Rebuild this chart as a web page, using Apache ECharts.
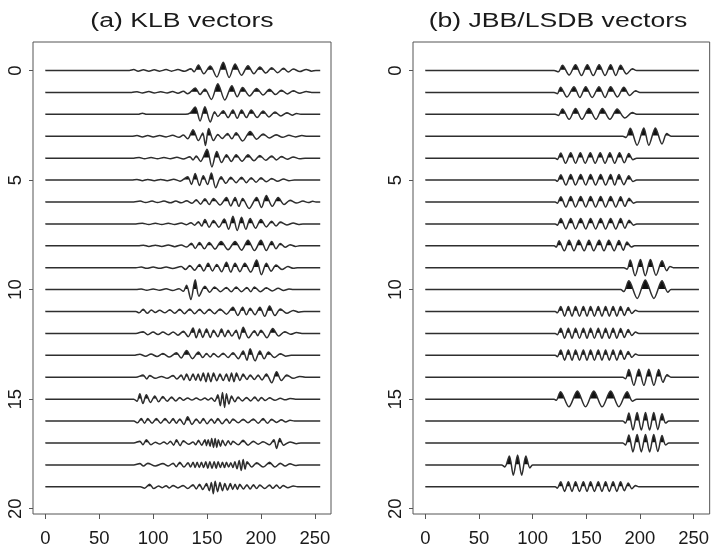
<!DOCTYPE html>
<html><head><meta charset="utf-8">
<script src="https://cdn.jsdelivr.net/npm/echarts@6/dist/echarts.min.js"></script>
<style>html,body{margin:0;padding:0;background:#fff}#c{width:712px;height:548px}</style>
</head><body><div id="c"></div><script>
// tick labels and titles
const xTicks = [0, 50, 100, 150, 200, 250];
const yTicks = [0, 5, 10, 15, 20];
const titles = ['(a) KLB vectors', '(b) JBB/LSDB vectors'];
const xStart = 0, xEnd = 255;

// Each vector: flat list of [x, amplitude] pairs (peaks / troughs)
const klb0 = [78,0, 82,.04, 86,-.03, 91,.03, 96,-.03, 101,.03, 106,-.03, 112,.04, 117,-.03, 123,.04, 129,-.04, 135,.08, 138,-.06, 142,.25, 147,-.15, 153,.2, 159,-.3, 165,.38, 170.5,-.32, 176,.3, 182,-.22, 188,.22, 193.5,-.15, 199,.16, 204.5,-.12, 210,.13, 215.5,-.1, 221,.1, 225.5,-.07, 230,.07, 236,-.05, 242,.05, 247,-.03, 251,0];
const klb1 = [80,0, 85,.03, 90,-.03, 96,.04, 101,-.03, 107,.03, 113,-.03, 118,.04, 123,-.04, 128,.05, 132,-.06, 139,.2, 143.5,-.1, 148,.15, 154,-.32, 160,.4, 166.5,-.35, 173,.3, 178,-.2, 183,.22, 189.5,-.16, 196,.18, 202,-.12, 208,.14, 213.5,-.1, 219,.1, 224.5,-.07, 230,.07, 236,-.04, 242,.04, 247,0];
const klb2 = [86,0, 90,.05, 94,0, 130,0, 134,.05, 139,.33, 143.5,-.3, 148,.35, 153,-.35, 157,.12, 160,-.1, 165,.16, 169.5,-.15, 174,.2, 178,-.18, 182,.2, 186.5,-.15, 191,.2, 196.5,-.15, 202,.15, 207.5,-.12, 213,.1, 218.5,-.08, 224,.07, 229,-.04, 233,.04, 237,0];
const klb3 = [80,0, 85,.03, 90,-.03, 95,.03, 100,-.03, 106,.03, 112,-.03, 118,.04, 124,-.05, 128,.06, 132,-.12, 137,.3, 142,-.2, 146,.15, 148.5,-.42, 151.5,.35, 156,-.2, 160,.08, 164,-.1, 169,.12, 173,-.12, 177,.16, 183,-.22, 190,.22, 196,-.14, 202,.1, 208,-.08, 214,.07, 220,-.05, 226,.04, 232,-.03, 238,.03, 243,0];
const klb4 = [82,0, 87,.03, 92,-.03, 98,.03, 104,-.03, 110,.03, 116,-.03, 122,.04, 128,-.04, 134,.06, 137,-.08, 140,.1, 144,-.15, 150,.4, 154.5,-.4, 159,.3, 163.5,-.2, 168,.16, 172.5,-.15, 177,.16, 182.5,-.14, 188,.15, 193.5,-.12, 199,.12, 204.5,-.1, 210,.1, 214.5,-.08, 219,.07, 224.5,-.05, 230,.05, 236,-.03, 241,0];
const klb5 = [80,0, 85,.03, 90,-.03, 95,.03, 101,-.03, 107,.03, 113,-.03, 119,.04, 125,-.05, 132,.15, 135.5,-.2, 139,.3, 143,-.25, 146.5,.2, 150.5,-.2, 154,.32, 158,-.35, 163,.15, 167.5,-.15, 172,.13, 177,-.12, 182,.13, 186.5,-.12, 191,.11, 195.5,-.1, 200,.1, 205,-.08, 210,.07, 215.5,-.06, 221,.05, 226,-.03, 231,0];
const klb6 = [82,0, 88,.04, 93,-.03, 99,.04, 104,-.03, 110,.04, 116,-.04, 121,.04, 126,-.04, 131,.05, 136,-.06, 140,.1, 144,-.1, 148,.15, 152,-.12, 156,.16, 162,-.14, 168,.2, 172,-.18, 176,.2, 179.5,-.2, 183,.16, 189,-.3, 196,.2, 200.5,-.25, 205,.3, 210.5,-.2, 216,.2, 221.5,-.12, 227,.08, 233,-.05, 239,.04, 244,-.03, 248,.03, 251,0];
const klb7 = [84,0, 90,.03, 96,-.03, 102,.03, 108,-.03, 114,.03, 120,-.03, 126,.04, 131,-.04, 135,.05, 138.5,-.06, 142,.1, 145,-.1, 148,.2, 152,-.15, 156,.15, 161,-.15, 166,.22, 170,-.25, 174,.35, 178,-.3, 182,.3, 186,-.25, 190,.25, 195,-.2, 200,.2, 205,-.14, 210,.12, 214,-.1, 218,.08, 224,-.05, 230,.04, 235,-.03, 239,0];
const klb8 = [86,0, 91,.03, 96,-.03, 102,.03, 108,-.03, 114,.04, 120,-.04, 126,.04, 131,-.06, 135.5,.12, 139,-.12, 143,.15, 147.5,-.14, 152,.15, 157.5,-.15, 163,.2, 169.5,-.18, 176,.2, 182,-.2, 188,.25, 194,-.22, 200,.25, 205,-.22, 210,.2, 214,-.14, 218,.1, 222.5,-.07, 227,.05, 232,-.03, 236,0];
const klb9 = [84,0, 89,.03, 94,-.03, 100,.03, 106,-.03, 112,.03, 118,-.04, 126,.05, 130,-.08, 134,.1, 138.5,-.12, 143,.15, 147,-.15, 151,.2, 155,-.15, 159,.15, 163.5,-.18, 168,.25, 172,-.2, 176,.2, 180.5,-.18, 185,.2, 190.5,-.2, 196,.35, 200.5,-.32, 205,.2, 209.5,-.16, 214,.12, 219.5,-.08, 225,.05, 230,-.03, 234,0];
const klb10 = [84,0, 89,.03, 94,-.03, 100,.03, 106,-.03, 112,.04, 118,-.04, 124,.04, 128,-.08, 131,.2, 135,-.45, 139,.45, 142.5,-.3, 148,.15, 152.5,-.12, 157,.12, 162.5,-.1, 168,.1, 172.5,-.1, 177,.12, 182,-.1, 187,.1, 190.5,-.1, 194,.12, 199.5,-.1, 205,.08, 210.5,-.06, 216,.06, 221,-.04, 226,.03, 230,0];
const klb11 = [84,0, 87,-.06, 90.7,.1, 94.5,-.08, 98.4,.07, 102,-.05, 106,.06, 111,-.06, 115.4,.08, 120,-.08, 124.7,.1, 129,-.1, 134,.12, 138.5,-.1, 143,.1, 147.5,-.1, 152,.1, 157,-.1, 162,.12, 168,-.12, 174,.2, 178.5,-.18, 183,.2, 186.5,-.15, 190,.15, 194.5,-.15, 199,.2, 203.5,-.22, 208,.25, 213,-.18, 218,.12, 224,-.08, 230,.05, 235,-.03, 240,0];
const klb12 = [84,0, 90.7,.08, 95,-.06, 100,.06, 104.5,-.05, 109,.06, 114,-.06, 118.5,.07, 123,-.08, 128,.1, 132.5,-.15, 137,.25, 140,-.2, 143,.2, 146,-.18, 149.5,.2, 153,-.18, 156,.15, 160,-.15, 163.4,.2, 166.5,-.15, 169.6,.15, 173,-.12, 177,.15, 180,-.25, 183.5,.28, 188.5,-.2, 194,.12, 197,-.1, 200,.15, 205.5,-.2, 211,.22, 216.5,-.12, 222,.08, 227.5,-.04, 233,.04, 238,0];
const klb13 = [82,0, 87.6,.05, 93,-.04, 98,.06, 103.5,-.05, 109,.08, 115,-.08, 121.6,.12, 126,-.12, 131,.22, 136.5,-.15, 142,.15, 146,-.1, 149.5,.08, 153,-.08, 156,.08, 160.5,-.08, 165,.1, 169.5,-.1, 174,.12, 179,-.15, 183.5,.2, 187,-.22, 190,.3, 194.5,-.25, 199,.2, 203,-.16, 207,.15, 212.5,-.1, 218,.07, 223,-.04, 228,0];
const klb14 = [84,0, 90.7,.1, 94,-.08, 96.8,.08, 102,-.05, 107.7,.04, 113,-.05, 118.5,.08, 122,-.08, 126,.1, 128.5,-.12, 131,.15, 134,-.15, 137,.15, 139.5,-.14, 141.7,.15, 144,-.16, 146.5,.2, 149,-.2, 151,.2, 153.5,-.2, 156,.2, 159,-.16, 162,.15, 165,-.15, 168,.15, 170.5,-.18, 172.7,.2, 175,-.2, 177.3,.2, 180.5,-.15, 183.5,.15, 187,-.1, 190,.1, 194,-.1, 197.4,.1, 201,-.12, 205,.15, 210,-.25, 214.5,.25, 219,-.15, 224,.1, 230,-.05, 236,.04, 241,0];
const klb15 = [82,0, 85,-.1, 87.6,.25, 90.5,-.2, 93.7,.2, 97.5,-.15, 101.5,.15, 105,-.12, 109,.12, 113,-.1, 117,.1, 121,-.08, 124.7,.08, 128,-.05, 132,.05, 136,-.04, 140,.05, 144,-.04, 148,.05, 151,-.04, 154,.05, 157,-.1, 160,.2, 162.3,-.3, 164.3,.3, 166.3,-.38, 168,.25, 170.3,-.22, 172.7,.15, 175.8,-.12, 178.8,.1, 182.7,-.08, 186.6,.08, 190.5,-.08, 194.3,.1, 197.4,-.08, 200.5,.08, 204,-.06, 208,.06, 213,-.05, 218,.04, 222.5,-.03, 227,.03, 232,0];
const klb16 = [82,0, 85.5,-.08, 89,.12, 92,-.1, 95,.12, 99,-.1, 103,.12, 107,-.1, 111,.12, 115,-.1, 118.5,.12, 121.5,-.1, 124.7,.1, 128.5,-.15, 132,.2, 136,-.15, 140,.1, 143.5,-.1, 146.5,.12, 150,-.12, 154,.1, 157,-.1, 160,.12, 164,-.12, 168,.1, 171,-.1, 174,.1, 179,-.08, 183.5,.08, 188,-.08, 193,.1, 197.5,-.1, 202,.12, 206,-.1, 210,.08, 214.5,-.06, 219,.06, 223,-.04, 227,.04, 231,0];
const klb17 = [82,0, 87.6,.08, 90.5,-.08, 93.7,.15, 98,-.08, 102,.04, 106,-.05, 110,.05, 113,-.05, 116,.08, 119,-.1, 121.6,.15, 125,-.12, 128,.1, 133,-.06, 137,.05, 139.5,-.08, 142,.12, 145,-.1, 148,.15, 149.5,-.12, 151,.15, 152.8,-.15, 154.3,.2, 156,-.2, 157.5,.2, 159,-.2, 160.5,.15, 162.5,-.15, 164.3,.12, 167,-.12, 169.6,.1, 172,-.08, 174,.08, 179,-.08, 183.5,.12, 188,-.1, 193,.08, 197.5,-.06, 202,.06, 208,-.08, 212,.15, 214.5,-.25, 217.5,.2, 221,-.1, 227,.05, 233,-.03, 237,0];
const klb18 = [82,0, 87.6,.06, 91,-.05, 95,.08, 102,-.05, 109,.06, 114,-.05, 118.5,.08, 121.5,-.08, 124.7,.12, 128.5,-.1, 132.4,.1, 134.7,-.1, 137,.12, 139,-.12, 140.8,.12, 142.8,-.12, 144.8,.12, 146.8,-.12, 148.8,.15, 150.7,-.15, 152.6,.15, 154.6,-.15, 156.6,.15, 158.5,-.15, 160.3,.15, 162.3,-.12, 164.3,.12, 166.2,-.12, 168,.12, 170,-.1, 172,.1, 174,-.12, 175.8,.15, 177.8,-.18, 179.8,.2, 181.7,-.25, 183.5,.25, 185.3,-.2, 187.2,.15, 191.5,-.1, 196,.1, 202,-.1, 208,.12, 213,-.1, 218,.08, 222.5,-.05, 227,.05, 232,-.03, 236,0];
const klb19 = [88,0, 92,-.06, 96.8,.12, 100.5,-.08, 105,.04, 108.5,-.04, 112,.05, 115,-.05, 118.5,.06, 123,-.05, 127.8,.06, 132,-.08, 137,.1, 140,-.1, 143,.12, 146,-.12, 149.5,.15, 152,-.18, 154,.2, 155.8,-.32, 157.5,.25, 159.8,-.22, 162,.2, 164.3,-.18, 166.5,.15, 169,-.15, 171.6,.15, 173.8,-.12, 176,.12, 178.2,-.12, 180.4,.12, 183.7,-.1, 187,.1, 190,-.1, 193,.1, 196,-.08, 199,.08, 203.5,-.08, 208,.08, 211,-.07, 214.5,.08, 217.5,-.06, 220.6,.06, 225,-.04, 230,.04, 234,0];

const jbb0 = [120,0, 124,-.06, 127.8,.24, 134,-.21, 140,.26, 145.5,-.23, 151,.26, 156.5,-.23, 162,.26, 167.5,-.23, 172.7,.26, 177.5,-.23, 182,.24, 187.5,-.16, 193,.08, 197,0];
const jbb1 = [120,0, 123,-.06, 126,.24, 132,-.21, 138.6,.26, 144,-.23, 149.5,.26, 155.5,-.23, 161.9,.26, 167.5,-.23, 172.7,.26, 179,-.21, 185,.23, 190.5,-.14, 196,.07, 200,0];
const jbb2 = [121,0, 124,-.05, 127.8,.24, 134,-.23, 140,.26, 146,-.23, 152.5,.26, 159,-.23, 165,.26, 172,-.23, 178.8,.24, 186,-.17, 193,.08, 197,0];
const jbb3 = [184,0, 187,-.06, 191,.36, 197.4,-.41, 203.6,.38, 208.3,-.41, 214.4,.38, 220.6,-.35, 225,.12, 229,0];
const jbb4 = [121,0, 123,-.06, 126.2,.23, 130.7,-.23, 135.5,.25, 140,-.23, 144.5,.25, 149,-.23, 153.8,.25, 158.3,-.23, 163,.25, 167.5,-.23, 172,.25, 176.5,-.23, 181,.25, 185.5,-.21, 189.7,.21, 193.5,-.07, 197,0];
const jbb5 = [121,0, 123,-.06, 126.2,.24, 131,-.23, 135.5,.25, 140,-.23, 144.8,.25, 149.5,-.23, 154,.25, 158.7,-.23, 163.4,.25, 168,-.23, 172.7,.25, 176.5,-.23, 180.4,.25, 185,-.21, 189.7,.2, 193.5,-.07, 197,0];
const jbb6 = [121,0, 123,-.06, 126.2,.24, 131,-.23, 135.5,.25, 140,-.23, 144.8,.25, 149.5,-.23, 154,.25, 158.7,-.23, 163.4,.25, 168,-.23, 172.7,.25, 177.5,-.23, 182,.24, 186,-.2, 190,.17, 194,-.06, 197,0];
const jbb7 = [121,0, 123,-.06, 126.2,.24, 131,-.23, 135.5,.25, 140,-.23, 144.8,.25, 149.5,-.23, 154,.25, 158.7,-.23, 163.4,.25, 168,-.23, 172.7,.25, 177.5,-.23, 182,.24, 186,-.2, 190,.17, 194,-.06, 197,0];
const jbb8 = [120,0, 122,-.06, 124.6,.23, 129.5,-.23, 134,.25, 138.5,-.23, 143,.25, 148,-.23, 152.5,.25, 157,-.23, 162,.25, 166.5,-.23, 171,.25, 176,-.23, 180.4,.24, 184.5,-.2, 188,.17, 192,-.06, 195,0];
const jbb9 = [185,0, 188,-.07, 191,.35, 195.5,-.37, 200.5,.37, 205,-.37, 209.8,.37, 215,-.35, 220.6,.32, 225,-.14, 228,.06, 231,0];
const jbb10 = [182,0, 185,-.09, 189.7,.4, 197.5,-.4, 205,.44, 213,-.4, 220.6,.4, 226,-.12, 229,0];
const jbb11 = [121,0, 123,-.06, 126.2,.23, 129.8,-.21, 133.3,.23, 136.7,-.21, 140,.23, 143.7,-.21, 147.3,.23, 150.7,-.21, 154,.23, 157.6,-.21, 161.2,.23, 164.6,-.21, 168,.23, 171.5,-.21, 175,.23, 178.5,-.21, 182,.23, 185.5,-.18, 189.1,.18, 192.5,-.09, 195.9,.06, 199,0];
const jbb12 = [121,0, 123,-.06, 126.2,.24, 129.8,-.22, 133.3,.24, 136.7,-.22, 140,.24, 143.7,-.22, 147.3,.24, 150.7,-.22, 154,.24, 157.6,-.22, 161.2,.24, 164.6,-.22, 168,.24, 171.5,-.22, 175,.24, 178.5,-.22, 182,.23, 185.5,-.18, 189.1,.18, 192.5,-.09, 195.9,.06, 199,0];
const jbb13 = [121,0, 123,-.06, 126.2,.24, 129.8,-.22, 133.3,.24, 136.7,-.22, 140,.24, 143.7,-.22, 147.3,.24, 150.7,-.22, 154,.24, 157.6,-.22, 161.2,.24, 164.6,-.22, 168,.24, 171.5,-.22, 175,.24, 178.5,-.22, 182,.23, 185.5,-.18, 189.1,.18, 192.5,-.09, 195.9,.06, 199,0];
const jbb14 = [184,0, 186.5,-.07, 189.7,.35, 194.3,-.37, 199,.37, 203.7,-.37, 208.3,.37, 213,-.37, 217.5,.35, 221.5,-.23, 225.3,.12, 229,0];
const jbb15 = [120,0, 122,-.05, 126,.34, 133.8,-.35, 141.7,.37, 149.3,-.35, 157,.37, 164.8,-.35, 172.7,.37, 180.4,-.35, 188.1,.34, 193,-.09, 197,0];
const jbb16 = [184,0, 186.5,-.09, 189.7,.37, 193.5,-.41, 197.4,.39, 201.3,-.41, 205.2,.39, 209,-.41, 212.9,.39, 216.7,-.39, 220.6,.34, 224,-.09, 227,0];
const jbb17 = [184,0, 186.5,-.09, 189.7,.37, 193.5,-.41, 197.4,.39, 201.3,-.41, 205.2,.39, 209,-.41, 212.9,.39, 216.7,-.39, 220.6,.34, 224,-.09, 227,0];
const jbb18 = [71,0, 74,-.09, 78.3,.41, 82,-.47, 86,.45, 89.8,-.47, 93.7,.41, 97.5,-.14, 100,0];
const jbb19 = [121,0, 123,-.06, 126.2,.23, 129.8,-.21, 133.3,.23, 136.7,-.21, 140,.23, 143.7,-.21, 147.3,.23, 150.7,-.21, 154,.23, 157.6,-.21, 161.2,.23, 164.6,-.21, 168,.23, 171.5,-.21, 175,.23, 178.5,-.21, 182,.23, 185.5,-.18, 189.1,.18, 192.5,-.09, 195.9,.06, 199,0];

const KLB = [klb0,klb1,klb2,klb3,klb4,klb5,klb6,klb7,klb8,klb9,klb10,klb11,klb12,klb13,klb14,klb15,klb16,klb17,klb18,klb19];
const JBB = [jbb0,jbb1,jbb2,jbb3,jbb4,jbb5,jbb6,jbb7,jbb8,jbb9,jbb10,jbb11,jbb12,jbb13,jbb14,jbb15,jbb16,jbb17,jbb18,jbb19];

const FONT = '"Liberation Sans", Arial, Helvetica, sans-serif';
const TIP = 0.03;   // amplitude above which peak tips render solid

function buildSeries(traces, gi) {
  const out = [];
  traces.forEach((flat, k) => {
    const pts = [[xStart, k]];
    for (let i = 0; i < flat.length; i += 2) pts.push([flat[i], k - flat[i + 1]]);
    pts.push([xEnd, k]);
    const common = {type: 'line', xAxisIndex: gi, yAxisIndex: gi, data: pts, smooth: 0.3,
      symbol: 'none', silent: true, animation: false};
    out.push(Object.assign({}, common, {lineStyle: {width: 0, opacity: 0},
      areaStyle: {color: '#111', opacity: 1, origin: k - TIP}, z: 2}));
    out.push(Object.assign({}, common, {lineStyle: {width: 0, opacity: 0},
      areaStyle: {color: '#fff', opacity: 1, origin: k - 0.8}, z: 3}));
    out.push(Object.assign({}, common, {lineStyle: {color: '#2e2e2e', width: 1.5}, z: 4}));
  });
  return out;
}

function xAx(gi) {
  return {type: 'value', gridIndex: gi, min: -11.5, max: 265,
    splitLine: {show: false}, axisLine: {show: false, onZero: false},
    axisTick: {show: true, length: 5, lineStyle: {color: '#555'}, customValues: xTicks},
    axisLabel: {customValues: xTicks, fontSize: 18.5, fontFamily: FONT, color: '#1a1a1a', margin: 15}};
}
function yAx(gi) {
  return {type: 'value', gridIndex: gi, inverse: true, min: -1.3, max: 20.24,
    splitLine: {show: false}, axisLine: {show: false, onZero: false},
    axisTick: {show: true, length: 4, lineStyle: {color: '#555'}, customValues: yTicks},
    axisLabel: {customValues: yTicks, rotate: 90, fontSize: 18.5, fontFamily: FONT, color: '#1a1a1a', margin: 8}};
}

const chart = echarts.init(document.getElementById('c'), null, {renderer: 'canvas'});
chart.setOption({
  animation: false,
  backgroundColor: '#fff',
  grid: [
    {left: 33, top: 42, width: 298, height: 475, show: true, borderColor: '#555', borderWidth: 1, backgroundColor: 'transparent'},
    {left: 413, top: 42, width: 297, height: 475, show: true, borderColor: '#555', borderWidth: 1, backgroundColor: 'transparent'}
  ],
  xAxis: [xAx(0), xAx(1)],
  yAxis: [yAx(0), yAx(1)],
  graphic: [
    {type: 'text', x: 182, y: 21, scaleX: 1.33, silent: true,
      style: {text: titles[0], fontSize: 20, fontFamily: FONT, fill: '#1a1a1a', align: 'center', verticalAlign: 'middle'}},
    {type: 'text', x: 558, y: 21, scaleX: 1.33, silent: true,
      style: {text: titles[1], fontSize: 20, fontFamily: FONT, fill: '#1a1a1a', align: 'center', verticalAlign: 'middle'}}
  ],
  series: buildSeries(KLB, 0).concat(buildSeries(JBB, 1))
});
</script></body></html>
